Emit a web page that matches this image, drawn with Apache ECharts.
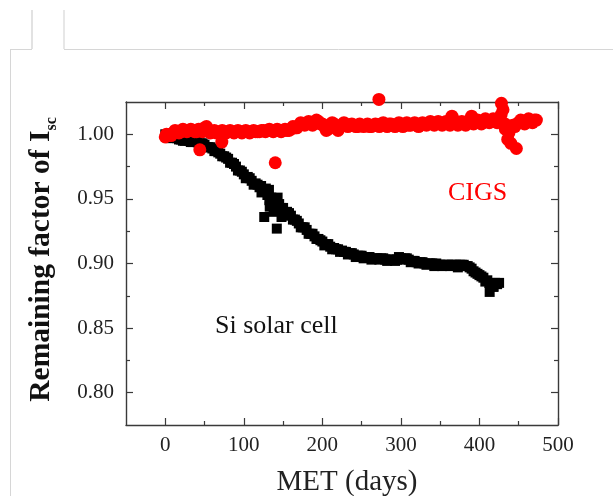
<!DOCTYPE html>
<html>
<head>
<meta charset="utf-8">
<script src="https://cdn.jsdelivr.net/npm/echarts@6/dist/echarts.min.js"></script>
<style>html,body{margin:0;padding:0;background:#fff;}#c{width:613px;height:496px;}</style>
</head>
<body>
<div id="c"></div>
<script>
// ---- Data ----
// Si solar cell: band centre, then a second staggered row (band spread), then scattered points
var siDays = [0,5,10,15,20,25,30,35,40,45,50,55,60,65,70,75,80,85,90,95,100,105,110,115,120,125,130,135,140,145,150,155,160,165,170,175,180,185,190,195,200,205,210,215,220,225,230,235,240,245,250,255,260,265,270,275,280,285,290,295,300,305,310,315,320,325,330,335,340,345,350,355,360,365,370,375,380,385,390,395,400,405,410,415,420,425];
var siValues = [1.000,0.999,0.998,0.997,0.996,0.995,0.995,0.994,0.994,0.993,0.992,0.990,0.989,0.987,0.985,0.983,0.981,0.978,0.975,0.972,0.969,0.967,0.964,0.962,0.959,0.957,0.953,0.951,0.949,0.946,0.943,0.940,0.937,0.934,0.931,0.928,0.926,0.923,0.921,0.919,0.917,0.915,0.913,0.912,0.911,0.910,0.909,0.908,0.907,0.906,0.906,0.905,0.905,0.904,0.904,0.904,0.903,0.903,0.903,0.903,0.904,0.904,0.903,0.902,0.901,0.901,0.900,0.900,0.900,0.900,0.899,0.899,0.899,0.899,0.899,0.899,0.899,0.898,0.896,0.893,0.891,0.889,0.887,0.884,0.885,0.885];
var siDays2 = [2.5,7.5,12.5,17.5,22.5,27.5,32.5,37.5,42.5,47.5,52.5,57.5,62.5,67.5,72.5,77.5,82.5,87.5,92.5,97.5,102.5,107.5,112.5,117.5,122.5,127.5,132.5,137.5,142.5,147.5,152.5,157.5,162.5,167.5,172.5,177.5,182.5,187.5,192.5,197.5,202.5,207.5,212.5,217.5,222.5,227.5,232.5,237.5,242.5,247.5,252.5,257.5,262.5,267.5,272.5,277.5,282.5,287.5,292.5,297.5,302.5,307.5,312.5,317.5,322.5,327.5,332.5,337.5,342.5,347.5,352.5,357.5,362.5,367.5,372.5,377.5,382.5,387.5,392.5,397.5,402.5,407.5,412.5,417.5,422.5];
var siValues2 = [0.999,0.997,0.998,0.996,0.995,0.996,0.994,0.995,0.993,0.993,0.990,0.990,0.987,0.986,0.983,0.982,0.978,0.977,0.972,0.971,0.966,0.966,0.961,0.961,0.955,0.956,0.949,0.950,0.944,0.943,0.939,0.939,0.934,0.933,0.928,0.928,0.923,0.923,0.919,0.918,0.914,0.915,0.911,0.911,0.909,0.909,0.907,0.908,0.905,0.906,0.904,0.905,0.903,0.904,0.903,0.904,0.902,0.903,0.902,0.905,0.903,0.904,0.901,0.902,0.900,0.901,0.899,0.900,0.898,0.899,0.898,0.899,0.898,0.899,0.897,0.899,0.898,0.897,0.894,0.892,0.890,0.886,0.885,0.882,0.884];
var siScatterDays = [122,128,132,133,138,143,148,126,142,413,418];
var siScatterValues = [0.960,0.958,0.957,0.944,0.940,0.951,0.936,0.936,0.927,0.878,0.882];

// CIGS: band centre, staggered second row, scattered points
var cigsDays = [0,3,6,10,15,20,25,30,35,40,45,50,55,60,65,70,75,80,85,90,95,100,105,110,115,120,125,130,135,140,145,150,155,160,165,170,175,180,185,190,195,200,205,210,215,220,225,230,235,240,245,250,255,260,265,270,275,280,285,290,295,300,305,310,315,320,325,330,335,340,345,350,355,360,365,370,375,380,385,390,395,400,405,410,415,420,425,428,430,433,436,440,447,440,445,450,455,460,465,470];
var cigsValues = [0.998,0.999,1.000,1.001,1.002,1.002,1.003,1.003,1.003,1.002,1.004,1.005,1.003,1.002,1.001,1.002,1.002,1.002,1.002,1.002,1.002,1.002,1.002,1.002,1.002,1.002,1.003,1.003,1.003,1.003,1.003,1.003,1.003,1.004,1.005,1.007,1.008,1.008,1.008,1.009,1.010,1.008,1.003,1.007,1.008,1.003,1.007,1.007,1.007,1.007,1.006,1.007,1.007,1.006,1.007,1.007,1.008,1.007,1.008,1.007,1.007,1.008,1.007,1.007,1.008,1.007,1.008,1.008,1.008,1.008,1.009,1.008,1.009,1.008,1.014,1.009,1.008,1.008,1.009,1.014,1.009,1.009,1.010,1.010,1.011,1.011,1.012,1.024,1.019,1.004,0.996,0.993,0.989,1.005,1.006,1.009,1.010,1.010,1.011,1.011];
var cigsDays2 = [1.5,7.5,12.5,17.5,22.5,27.5,32.5,37.5,42.5,47.5,52.5,57.5,62.5,67.5,72.5,77.5,82.5,87.5,92.5,97.5,102.5,107.5,112.5,117.5,122.5,127.5,132.5,137.5,142.5,147.5,152.5,157.5,162.5,167.5,172.5,177.5,182.5,187.5,192.5,197.5,202.5,207.5,212.5,217.5,222.5,227.5,232.5,237.5,242.5,247.5,252.5,257.5,262.5,267.5,272.5,277.5,282.5,287.5,292.5,297.5,302.5,307.5,312.5,317.5,322.5,327.5,332.5,337.5,342.5,347.5,352.5,357.5,362.5,367.5,372.5,377.5,382.5,387.5,392.5,397.5,402.5,407.5,412.5,417.5,422.5,427.5,432.5,437.5,442.5,447.5,452.5,457.5,462.5,467.5,472.5];
var cigsValues2 = [1.000,0.999,1.003,1.001,1.004,1.002,1.004,1.002,1.004,1.002,1.006,1.001,1.003,1.001,1.003,1.001,1.003,1.001,1.003,1.001,1.003,1.001,1.003,1.002,1.003,1.002,1.004,1.002,1.004,1.002,1.004,1.003,1.006,1.005,1.009,1.007,1.010,1.007,1.011,1.008,1.006,1.004,1.009,1.005,1.006,1.009,1.006,1.008,1.006,1.008,1.006,1.008,1.006,1.008,1.006,1.009,1.006,1.008,1.006,1.009,1.006,1.009,1.007,1.009,1.006,1.009,1.007,1.010,1.007,1.010,1.007,1.010,1.007,1.011,1.007,1.010,1.007,1.011,1.008,1.011,1.008,1.012,1.009,1.012,1.009,1.015,1.008,1.001,1.007,1.008,1.011,1.008,1.012,1.009,1.011];
var cigsScatterDays = [44,72,140,272];
var cigsScatterValues = [0.988,0.994,0.978,1.027];

var xMajorTicks = [0,100,200,300,400,500];
var xMinorTicks = [50,150,250,350,450];
var yMajorTicks = [0.80,0.85,0.90,0.95,1.00];
var yMinorTicks = [0.825,0.875,0.925,0.975];

var xTitle = 'MET (days)';
var yTitle = 'Remaining factor of I';
var yTitleSub = 'sc';
var labelSi = 'Si solar cell';
var labelCigs = 'CIGS';

// ---- Chart ----
var FONT = "'Liberation Serif','Times New Roman',serif";
var AX = '#3a3a3a';

function zip(a, b) { return a.map(function (v, i) { return [v, b[i]]; }); }

function xAx(pos, ticks, len, showLabel, showLine, name) {
  var o = {
    type: 'value', position: pos, min: -50, max: 500, gridIndex: 0,
    axisLine: { show: showLine, onZero: false, lineStyle: { color: AX, width: 1.4 } },
    axisTick: { show: true, inside: true, length: len, customValues: ticks, lineStyle: { color: AX, width: 1.2 } },
    axisLabel: { show: showLabel, customValues: ticks, fontFamily: FONT, fontSize: 21, color: '#222', margin: 10 },
    splitLine: { show: false }
  };
  if (name) {
    o.name = name; o.nameLocation = 'middle'; o.nameGap = 43;
    o.nameTextStyle = { fontFamily: FONT, fontSize: 29, color: '#222', padding: [0, 0, 0, 10] };
  }
  return o;
}
function yAx(pos, ticks, len, showLabel, showLine, withName) {
  var o = {
    type: 'value', position: pos, min: 0.775, max: 1.025, gridIndex: 0,
    axisLine: { show: showLine, onZero: false, lineStyle: { color: AX, width: 1.4 } },
    axisTick: { show: true, inside: true, length: len, customValues: ticks, lineStyle: { color: AX, width: 1.2 } },
    axisLabel: { show: showLabel, customValues: ticks, fontFamily: FONT, fontSize: 21, color: '#222', margin: 12,
      formatter: function (v) { return v.toFixed(2); } },
    splitLine: { show: false }
  };
  if (withName) {
    o.name = '{a|' + yTitle + '}{b|' + yTitleSub + '}';
    o.nameLocation = 'middle'; o.nameRotate = 90; o.nameGap = 70;
    o.nameTextStyle = {
      padding: [0, 0, 0, 8],
      rich: {
        a: { fontFamily: FONT, fontSize: 29.5, fontWeight: 'bold', color: '#111' },
        b: { fontFamily: FONT, fontSize: 16, fontWeight: 'bold', color: '#111', verticalAlign: 'bottom', padding: [0, 0, -4, 0] }
      }
    };
  }
  return o;
}

var chart = echarts.init(document.getElementById('c'), null, { renderer: 'canvas' });
chart.setOption({
  animation: false,
  backgroundColor: '#fff',
  grid: { left: 126, right: 55, top: 102, bottom: 71, containLabel: false, outerBoundsMode: 'none' },
  xAxis: [
    xAx('bottom', xMajorTicks, 7, true, true, xTitle),
    xAx('bottom', xMinorTicks, 4, false, false),
    xAx('top', xMajorTicks, 7, false, true),
    xAx('top', xMinorTicks, 4, false, false)
  ],
  yAxis: [
    yAx('left', yMajorTicks, 7, true, true, true),
    yAx('left', yMinorTicks, 4, false, false),
    yAx('right', yMajorTicks, 7, false, true),
    yAx('right', yMinorTicks, 4, false, false)
  ],
  series: [
    { name: 'Si solar cell', type: 'scatter', xAxisIndex: 0, yAxisIndex: 0, clip: false,
      symbol: 'rect', symbolSize: 10, itemStyle: { color: '#000', opacity: 1 },
      data: zip(siDays, siValues).concat(zip(siDays2, siValues2), zip(siScatterDays, siScatterValues)) },
    { name: 'CIGS', type: 'scatter', xAxisIndex: 0, yAxisIndex: 0, clip: false,
      symbol: 'circle', symbolSize: 13, itemStyle: { color: '#ff0000', opacity: 1 },
      data: zip(cigsDays, cigsValues).concat(zip(cigsDays2, cigsValues2), zip(cigsScatterDays, cigsScatterValues)) }
  ],
  graphic: [
    { type: 'line', silent: true, shape: { x1: 32, y1: 10, x2: 32, y2: 49 }, style: { stroke: '#cfcfcf', lineWidth: 1.2 } },
    { type: 'line', silent: true, shape: { x1: 64, y1: 10, x2: 64, y2: 49 }, style: { stroke: '#cfcfcf', lineWidth: 1 } },
    { type: 'line', silent: true, shape: { x1: 10, y1: 49.5, x2: 32, y2: 49.5 }, style: { stroke: '#d6d6d6', lineWidth: 1 } },
    { type: 'line', silent: true, shape: { x1: 64, y1: 49.5, x2: 613, y2: 49.5 }, style: { stroke: '#d6d6d6', lineWidth: 1 } },
    { type: 'line', silent: true, shape: { x1: 10.5, y1: 49, x2: 10.5, y2: 496 }, style: { stroke: '#d6d6d6', lineWidth: 1 } },
    { type: 'text', left: 448, top: 180, style: { text: labelCigs, font: '26px ' + FONT, fill: '#ff0000' } },
    { type: 'text', left: 215, top: 313, style: { text: labelSi, font: '26px ' + FONT, fill: '#111' } }
  ]
});
</script>
</body>
</html>
